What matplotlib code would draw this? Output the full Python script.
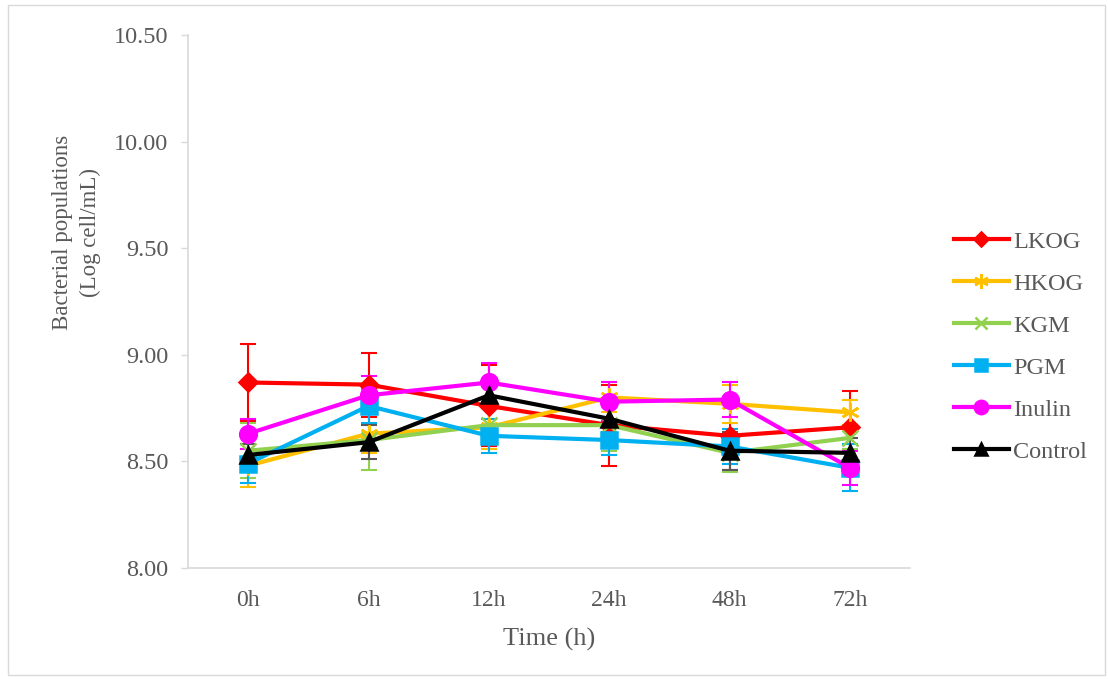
import numpy as np
import matplotlib.pyplot as plt
from matplotlib.patches import Rectangle

plt.rcParams['font.family'] = ['Liberation Serif', 'DejaVu Serif']

times = ['0h', '6h', '12h', '24h', '48h', '72h']

lkog = [8.87, 8.86, 8.76, 8.67, 8.62, 8.66]
lkog_err = [0.18, 0.15, 0.19, 0.19, 0.16, 0.17]
hkog = [8.48, 8.63, 8.66, 8.80, 8.77, 8.73]
hkog_err = [0.10, 0.09, 0.10, 0.07, 0.09, 0.06]
kgm = [8.55, 8.60, 8.67, 8.67, 8.54, 8.61]
kgm_err = [0.13, 0.14, 0.03, 0.12, 0.09, 0.05]
pgm = [8.49, 8.76, 8.62, 8.60, 8.57, 8.47]
pgm_err = [0.09, 0.08, 0.08, 0.07, 0.08, 0.11]
inulin = [8.63, 8.81, 8.87, 8.78, 8.79, 8.47]
inulin_err = [0.07, 0.09, 0.09, 0.09, 0.08, 0.08]
control = [8.53, 8.59, 8.81, 8.70, 8.55, 8.54]
control_err = [0.05, 0.08, 0.06, 0.06, 0.09, 0.07]

series = [
    ('LKOG', lkog, lkog_err, '#FF0000', '#FF0000', 'D', 9),
    ('HKOG', hkog, hkog_err, '#FFC000', '#FFC000', (6, 2, 0), 13),
    ('KGM', kgm, kgm_err, '#92D050', '#92D050', 'x', 11),
    ('PGM', pgm, pgm_err, '#00B0F0', '#00B0F0', 's', 11),
    ('Inulin', inulin, inulin_err, '#FF00FF', '#FF00FF', 'o', 12),
    ('Control', control, control_err, '#000000', '#595959', '^', 11),
]

fig = plt.figure(figsize=(11.08, 6.79), dpi=100)
ax = fig.add_axes([0.1697, 0.1635, 0.6516, 0.785])

x = np.arange(len(times))
for name, vals, err, c, ec, m, ms in series:
    ax.errorbar(x, vals, yerr=err, fmt='none', ecolor=ec, elinewidth=1.5,
                capsize=6, capthick=1.5, zorder=2)
for name, vals, err, c, ec, m, ms in series:
    ax.plot(x, vals, color=c, lw=3, marker=m, ms=ms, mfc=c, mec=c,
            mew=1.8, label=name, zorder=3)

ax.set_xlim(-0.5, 5.5)
ax.set_ylim(8.0, 10.5)
ax.set_xticks(x)
ax.set_xticklabels(times)
ax.set_yticks(np.arange(8.0, 10.51, 0.5))
ax.set_yticklabels(['%.2f' % v for v in np.arange(8.0, 10.51, 0.5)])
ax.tick_params(axis='x', length=0, pad=16, labelsize=17, labelcolor='#595959')
ax.tick_params(axis='y', length=5, width=1, color='#D9D9D9', pad=9,
               labelsize=17.5, labelcolor='#595959')
for s in ['top', 'right']:
    ax.spines[s].set_visible(False)
for s in ['left', 'bottom']:
    ax.spines[s].set_color('#D9D9D9')
    ax.spines[s].set_linewidth(1.2)

ax.set_xlabel('Time (h)', fontsize=19, color='#595959', labelpad=12)
ax.set_ylabel('Bacterial populations\n(Log cell/mL)', fontsize=16.5,
              color='#595959', linespacing=1.45)
ax.yaxis.set_label_coords(-0.12, 0.63)

leg = ax.legend(loc='center left', bbox_to_anchor=(1.03, 0.415), frameon=False,
                fontsize=17.5, labelcolor='#595959', handlelength=2.3,
                labelspacing=0.82, handletextpad=0.15, markerscale=0.8)

fig.patches.append(Rectangle((0.007, 0.006), 0.99, 0.987, transform=fig.transFigure,
                             fill=False, edgecolor='#D9D9D9', lw=1))

plt.savefig('out.png', dpi=100)
